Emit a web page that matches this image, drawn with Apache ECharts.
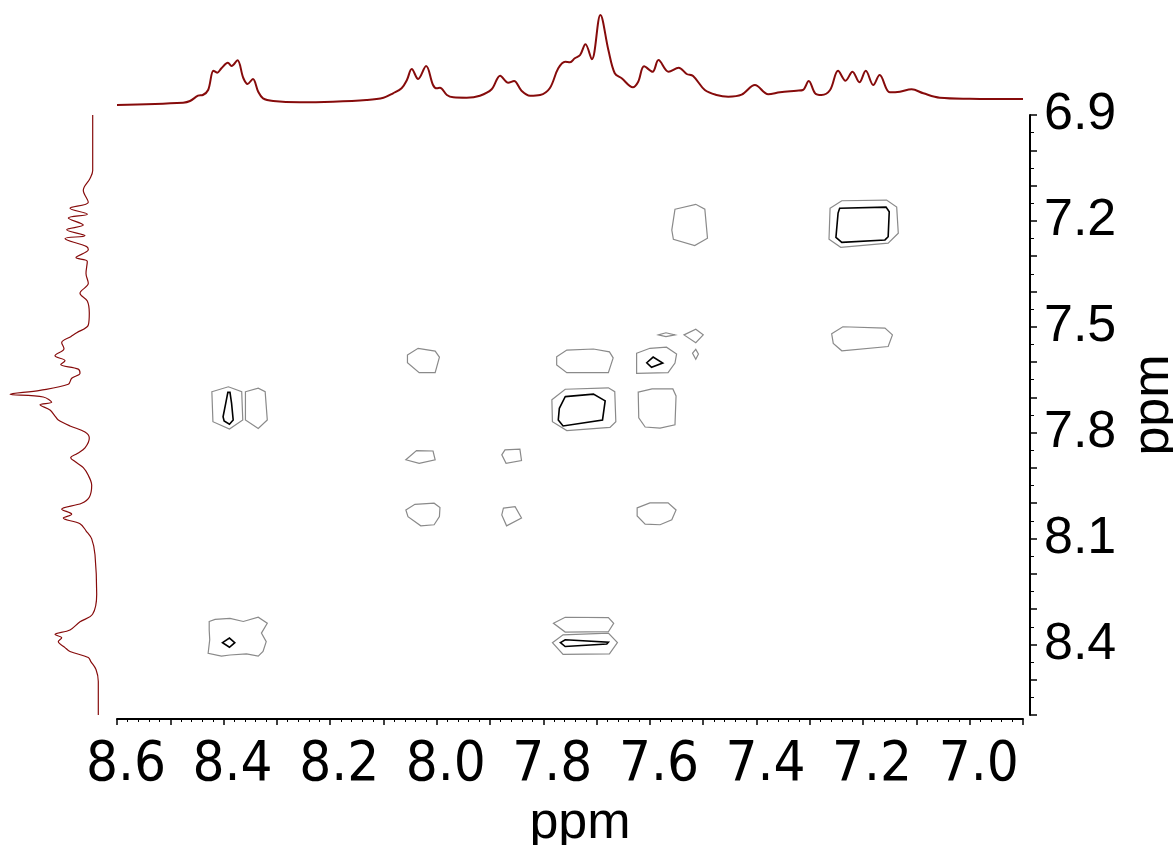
<!DOCTYPE html>
<html>
<head>
<meta charset="utf-8">
<script src="https://cdn.jsdelivr.net/npm/echarts@6/dist/echarts.min.js"></script>
<style>
  html, body { margin: 0; padding: 0; background: #fff; }
  #chart { width: 1173px; height: 845px; }
</style>
</head>
<body>
<div id="chart"></div>
<script>
// axis ranges (ppm)
const ppmMin = 6.9
const ppmMax = 8.6

// top projection: [ppm, intensity]
const topSpectrum = [
  [8.600, 0], [8.476, 2.3], [8.463, 4], [8.448, 9.3], [8.439, 10], [8.429, 15],
  [8.419, 34.3], [8.412, 32.3], [8.404, 36.7], [8.392, 42.3], [8.385, 39], [8.374, 44.7],
  [8.363, 27], [8.355, 21], [8.345, 26], [8.335, 13.3], [8.326, 6.7], [8.307, 4],
  [8.257, 2.7], [8.195, 3.3], [8.132, 5], [8.100, 7.3], [8.082, 11.7], [8.066, 16.7],
  [8.056, 25], [8.047, 36], [8.035, 26], [8.020, 39], [8.007, 20], [8.000, 16.7],
  [7.994, 17.3], [7.981, 10], [7.969, 7.7], [7.944, 7.3], [7.919, 9.3], [7.897, 15.7],
  [7.881, 29.3], [7.866, 22.3], [7.855, 24], [7.841, 14.3], [7.825, 9.3], [7.806, 10],
  [7.788, 16.7], [7.772, 36.7], [7.759, 43.3], [7.750, 42.7], [7.741, 46.7], [7.731, 50],
  [7.721, 60.7], [7.709, 45.7], [7.693, 90], [7.678, 55], [7.666, 31.7], [7.653, 26.7],
  [7.632, 17.7], [7.622, 23.3], [7.611, 38.7], [7.595, 33.3], [7.584, 45], [7.565, 33.3],
  [7.546, 37.3], [7.531, 31], [7.519, 29], [7.497, 15], [7.475, 10], [7.453, 8.3],
  [7.428, 10.3], [7.403, 20], [7.378, 10.7], [7.356, 12.7], [7.325, 14.3], [7.313, 15],
  [7.302, 24], [7.290, 11.7], [7.278, 10], [7.262, 15], [7.247, 34.3], [7.233, 24.3],
  [7.220, 33.3], [7.207, 22.7], [7.195, 34.3], [7.181, 20], [7.169, 30], [7.150, 12.7],
  [7.131, 13.3], [7.109, 15.7], [7.087, 11.7], [7.056, 7.3], [7.000, 6.3], [6.900, 6]
]

// side projection: [intensity, ppm]
const sideSpectrum = [
  [7.3, 6.900], [7.3, 7.057], [10, 7.080], [16.7, 7.113], [11.7, 7.147], [30, 7.164],
  [12.7, 7.181], [31.7, 7.192], [16.7, 7.212], [33.3, 7.225], [15, 7.242], [35, 7.250],
  [13.3, 7.273], [11.7, 7.282], [24, 7.304], [12.7, 7.315], [14, 7.349], [11.7, 7.377],
  [20, 7.405], [12.7, 7.427], [10.7, 7.461], [11.7, 7.495], [23.3, 7.517], [29.3, 7.528],
  [38.3, 7.545], [36, 7.562], [45, 7.582], [35, 7.596], [39.3, 7.607], [21.7, 7.620],
  [20, 7.632], [28.3, 7.646], [31.7, 7.663], [60, 7.680], [90, 7.691], [56.7, 7.699],
  [48.3, 7.714], [60, 7.721], [50, 7.736], [45, 7.753], [41.7, 7.764], [30, 7.781],
  [15, 7.798], [10.7, 7.815], [15, 7.843], [22.7, 7.859], [29.3, 7.871], [25, 7.882],
  [16.7, 7.899], [11.7, 7.921], [8.3, 7.949], [10.7, 7.983], [18.3, 8.000], [38.3, 8.017],
  [28.3, 8.031], [36.7, 8.042], [20, 8.058], [14, 8.078], [8.3, 8.101], [5, 8.146],
  [3.3, 8.258], [7.3, 8.314], [20, 8.336], [30, 8.359], [45, 8.372], [38.3, 8.381],
  [41.7, 8.392], [35, 8.409], [30, 8.420], [11.7, 8.437], [9.3, 8.448], [4, 8.471],
  [1.7, 8.505], [1.7, 8.600]
]

// lowest contour level (grey), [F2 ppm, F1 ppm] vertices
const greyContours = [
  [[8.422, 7.684], [8.391, 7.670], [8.366, 7.684], [8.364, 7.764], [8.389, 7.790], [8.420, 7.769]],
  [[8.359, 7.684], [8.335, 7.674], [8.322, 7.684], [8.318, 7.764], [8.335, 7.788], [8.359, 7.764]],
  [[8.055, 7.580], [8.035, 7.561], [8.003, 7.569], [7.995, 7.586], [8.003, 7.630], [8.033, 7.630], [8.055, 7.602]],
  [[7.775, 7.585], [7.756, 7.566], [7.706, 7.563], [7.676, 7.571], [7.669, 7.588], [7.678, 7.630], [7.756, 7.630], [7.775, 7.608]],
  [[7.625, 7.575], [7.600, 7.561], [7.569, 7.558], [7.550, 7.577], [7.553, 7.603], [7.566, 7.630], [7.625, 7.632]],
  [[7.584, 7.523], [7.570, 7.517], [7.553, 7.523], [7.570, 7.528]],
  [[7.536, 7.523], [7.514, 7.507], [7.500, 7.523], [7.514, 7.545]],
  [[7.520, 7.575], [7.514, 7.564], [7.509, 7.577], [7.514, 7.592]],
  [[7.553, 7.167], [7.514, 7.153], [7.497, 7.167], [7.492, 7.249], [7.516, 7.270], [7.556, 7.252], [7.559, 7.226]],
  [[7.262, 7.164], [7.240, 7.143], [7.156, 7.141], [7.137, 7.161], [7.134, 7.235], [7.153, 7.263], [7.242, 7.275], [7.264, 7.252]],
  [[7.259, 7.520], [7.238, 7.500], [7.159, 7.504], [7.145, 7.523], [7.153, 7.556], [7.240, 7.568], [7.256, 7.547]],
  [[7.784, 7.707], [7.759, 7.677], [7.678, 7.673], [7.666, 7.684], [7.664, 7.769], [7.675, 7.785], [7.756, 7.794], [7.783, 7.769]],
  [[7.622, 7.685], [7.596, 7.676], [7.557, 7.676], [7.551, 7.696], [7.553, 7.778], [7.581, 7.787], [7.609, 7.784], [7.621, 7.758]],
  [[8.058, 7.877], [8.038, 7.851], [8.007, 7.852], [8.003, 7.877], [8.033, 7.887]],
  [[7.878, 7.863], [7.872, 7.849], [7.844, 7.847], [7.841, 7.879], [7.870, 7.887]],
  [[8.058, 8.019], [8.041, 8.003], [8.005, 8.000], [7.994, 8.012], [7.995, 8.038], [8.005, 8.061], [8.030, 8.064], [8.054, 8.038]],
  [[7.875, 8.014], [7.853, 8.010], [7.841, 8.042], [7.869, 8.064], [7.878, 8.033]],
  [[7.624, 8.013], [7.600, 7.999], [7.566, 7.999], [7.551, 8.019], [7.559, 8.047], [7.581, 8.061], [7.609, 8.059], [7.624, 8.036]],
  [[8.427, 8.335], [8.416, 8.329], [8.388, 8.326], [8.363, 8.335], [8.335, 8.323], [8.318, 8.340], [8.329, 8.368], [8.320, 8.392],
   [8.326, 8.420], [8.335, 8.433], [8.357, 8.427], [8.388, 8.430], [8.404, 8.433], [8.429, 8.425], [8.426, 8.387], [8.427, 8.359]],
  [[7.781, 8.340], [7.759, 8.323], [7.678, 8.324], [7.668, 8.340], [7.678, 8.364], [7.759, 8.365]],
  [[7.783, 8.395], [7.763, 8.373], [7.678, 8.368], [7.661, 8.395], [7.676, 8.427], [7.763, 8.428]]
]

// higher contour level (black)
const blackContours = [
  [[8.392, 7.686], [8.388, 7.686], [8.385, 7.717], [8.382, 7.764], [8.389, 7.776], [8.399, 7.767], [8.401, 7.755], [8.396, 7.717]],
  [[7.606, 7.602], [7.594, 7.586], [7.576, 7.603], [7.597, 7.615]],
  [[7.244, 7.164], [7.157, 7.161], [7.151, 7.174], [7.153, 7.245], [7.159, 7.254], [7.240, 7.261], [7.251, 7.247], [7.247, 7.178]],
  [[7.759, 7.698], [7.706, 7.691], [7.684, 7.710], [7.689, 7.764], [7.763, 7.781], [7.772, 7.764], [7.770, 7.731]],
  [[8.402, 8.395], [8.389, 8.382], [8.379, 8.395], [8.389, 8.408]],
  [[7.768, 8.395], [7.759, 8.387], [7.678, 8.394], [7.681, 8.399], [7.759, 8.406]]
]

const traceColor = '#860b0b'
const font = 'Liberation Sans, Arial, sans-serif'
const narrowFont = '"Liberation Sans Narrow", "Arial Narrow", "DejaVu Sans Condensed", "Liberation Sans", sans-serif'

const contourSeries = (list, color, width) => ({
  type: 'custom',
  xAxisIndex: 0,
  yAxisIndex: 0,
  clip: true,
  silent: true,
  data: list.map((poly, i) => [poly[0][0], poly[0][1], i]),
  renderItem: (params, api) => {
    const poly = list[api.value(2)]
    return {
      type: 'polygon',
      shape: { points: poly.map(p => api.coord(p)) },
      style: { fill: 'none', stroke: color, lineWidth: width }
    }
  }
})

const chart = echarts.init(document.getElementById('chart'), null, { renderer: 'canvas' })

// fixed layout: keep grids where they are even when labels reach the edge
const gridBase = { containLabel: false, outerBoundsMode: 'none' }

chart.setOption({
  animation: false,
  backgroundColor: '#fff',
  grid: [
    { ...gridBase, left: 117, top: 115, width: 906, height: 600 },
    { ...gridBase, left: 117, top: 5, width: 906, height: 100 },
    { ...gridBase, left: 0, top: 115, width: 100, height: 600 }
  ],
  xAxis: [
    {
      gridIndex: 0,
      type: 'value',
      min: ppmMin,
      max: ppmMax,
      interval: 0.1,
      inverse: true,
      position: 'bottom',
      offset: 4,
      name: 'ppm',
      nameLocation: 'middle',
      nameGap: 72,
      nameTextStyle: { fontFamily: font, fontSize: 52, color: '#000', padding: [0, 0, 0, 20] },
      axisLine: { lineStyle: { color: '#000', width: 2 } },
      axisTick: { length: 6, lineStyle: { color: '#000', width: 1.5 } },
      minorTick: { show: true, splitNumber: 5, length: 3, lineStyle: { color: '#000', width: 1 } },
      splitLine: { show: false },
      axisLabel: {
        margin: 18,
        padding: [0, 0, 0, 18],
        fontFamily: narrowFont,
        fontSize: 56,
        color: '#000',
        formatter: v => {
          const k = Math.round(v * 10)
          return k % 2 === 0 ? (k / 10).toFixed(1) : ''
        }
      }
    },
    { gridIndex: 1, type: 'value', min: ppmMin, max: ppmMax, inverse: true, show: false },
    { gridIndex: 2, type: 'value', min: 0, max: 100, inverse: true, show: false }
  ],
  yAxis: [
    {
      gridIndex: 0,
      type: 'value',
      min: ppmMin,
      max: ppmMax,
      interval: 0.1,
      inverse: true,
      position: 'right',
      offset: 7,
      name: 'ppm',
      nameLocation: 'middle',
      nameRotate: 90,
      nameGap: 96,
      nameTextStyle: { fontFamily: font, fontSize: 52, color: '#000', padding: [0, 0, 0, 20] },
      axisLine: { show: true, lineStyle: { color: '#000', width: 2 } },
      axisTick: { show: true, length: 7, lineStyle: { color: '#000', width: 1.5 } },
      minorTick: { show: true, splitNumber: 2, length: 4, lineStyle: { color: '#000', width: 1 } },
      splitLine: { show: false },
      axisLabel: {
        margin: 14,
        fontFamily: font,
        fontSize: 52,
        color: '#000',
        formatter: v => {
          const k = Math.round(v * 10)
          return k % 3 === 0 ? (k / 10).toFixed(1) : ''
        }
      }
    },
    { gridIndex: 1, type: 'value', min: 0, max: 100, show: false },
    { gridIndex: 2, type: 'value', min: ppmMin, max: ppmMax, inverse: true, show: false }
  ],
  series: [
    {
      type: 'line',
      xAxisIndex: 1,
      yAxisIndex: 1,
      data: topSpectrum,
      smooth: 0.35,
      showSymbol: false,
      silent: true,
      lineStyle: { color: traceColor, width: 2 }
    },
    {
      type: 'line',
      xAxisIndex: 2,
      yAxisIndex: 2,
      data: sideSpectrum,
      smooth: 0.35,
      showSymbol: false,
      silent: true,
      lineStyle: { color: traceColor, width: 1.2 }
    },
    contourSeries(greyContours, '#8a8a8a', 1.2),
    contourSeries(blackContours, '#000', 1.6)
  ]
})
</script>
</body>
</html>
